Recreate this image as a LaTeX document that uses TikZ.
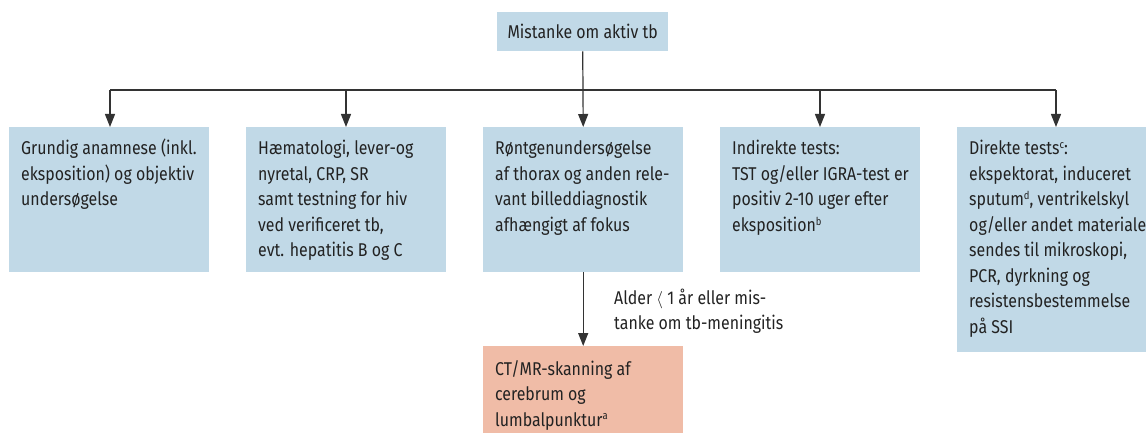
\documentclass[tikz,border=0pt]{standalone}
\usepackage{fontspec}
\setmainfont{Fira Sans}[FakeStretch=0.86]
\usetikzlibrary{arrows.meta,calc}
\definecolor{boxblue}{HTML}{C1D9E7}
\definecolor{boxpink}{HTML}{F0BCA7}
\definecolor{linec}{HTML}{333333}
\definecolor{txtc}{HTML}{222222}
\newcommand{\supr}[1]{\raisebox{0.33em}{\fontsize{11}{11}\selectfont #1}}
\begin{document}
\begin{tikzpicture}[x=1pt,y=-1pt,
  box/.style={rectangle, fill=boxblue, draw=none, anchor=north west, inner sep=0pt},
  pinkbox/.style={box, fill=boxpink},
  txt/.style={anchor=base west, inner sep=0pt, text=txtc, font=\fontsize{18.5}{25.5}\selectfont},
  conn/.style={draw=linec, line width=1.2pt},
  arr/.style={conn, -{Triangle[width=10pt,length=13pt]}}
]
\useasboundingbox (0,0) rectangle (1146,433);
% top box
\node[box, minimum width=171pt, minimum height=39pt, text=txtc, font=\fontsize{18.5}{25.5}\selectfont] (top) at (497,12) {Mistanke om aktiv tb};
% boxes
\node[box, minimum width=200pt, minimum height=145pt] (b1) at (9,127) {};
\node[box, minimum width=200pt, minimum height=145pt] (b2) at (246,127) {};
\node[box, minimum width=200pt, minimum height=145pt] (b3) at (483,127) {};
\node[box, minimum width=200pt, minimum height=145pt] (b4) at (720,127) {};
\node[box, minimum width=189pt, minimum height=225pt] (b5) at (957,127) {};
\node[pinkbox, minimum width=200pt, minimum height=87pt] (b6) at (483,346) {};
% texts
\node[txt] (t1) at ($(b1.north west)+(12,28)$) {\parbox[t]{190pt}{Grundig anamnese (inkl.\\eksposition) og objektiv\\undersøgelse}};
\node[txt] (t2) at ($(b2.north west)+(12,28)$) {\parbox[t]{190pt}{Hæmatologi, lever-og\\nyretal, CRP, SR\\samt testning for hiv\\ved verificeret tb,\\evt. hepatitis B og C}};
\node[txt] (t3) at ($(b3.north west)+(12,28)$) {\parbox[t]{190pt}{Røntgenundersøgelse\\af thorax og anden rele-\\vant billeddiagnostik\\afhængigt af fokus}};
\node[txt] (t4) at ($(b4.north west)+(12,28)$) {\parbox[t]{190pt}{Indirekte tests:\\TST og/eller IGRA-test er\\positiv 2-10 uger efter\\eksposition\supr{b}}};
\node[txt] (t5) at ($(b5.north west)+(12,28)$) {\parbox[t]{190pt}{Direkte tests\supr{c}:\\ekspektorat, induceret\\sputum\supr{d}, ventrikelskyl\\og/eller andet materiale\\sendes til mikroskopi,\\PCR, dyrkning og\\resistensbestemmelse\\på SSI}};
\node[txt] (t6) at ($(b6.north west)+(12,29)$) {\parbox[t]{190pt}{CT/MR-skanning af\\cerebrum og\\lumbalpunktur\supr{a}}};
\node[txt] (lbl) at (614,304) {\parbox[t]{200pt}{Alder $\langle$ 1 år eller mis-\\tanke om tb-meningitis}};
% connectors
\coordinate (bus) at (583,90);
\coordinate (busL) at (110,90);
\coordinate (busR) at (1056,90);
\draw[conn] (top.south) -- (bus);
\draw[conn] (busL) -- (busR);
\draw[arr] (busL) -- (busL |- b1.north);
\draw[arr] (346,90) -- (346,127);
\draw[arr] (bus) -- (b3.north);
\draw[arr] (820,90) -- (820,127);
\draw[arr] (busR) -- (busR |- b5.north);
\draw[arr] (b3.south) -- (b6.north);
\end{tikzpicture}
\end{document}
